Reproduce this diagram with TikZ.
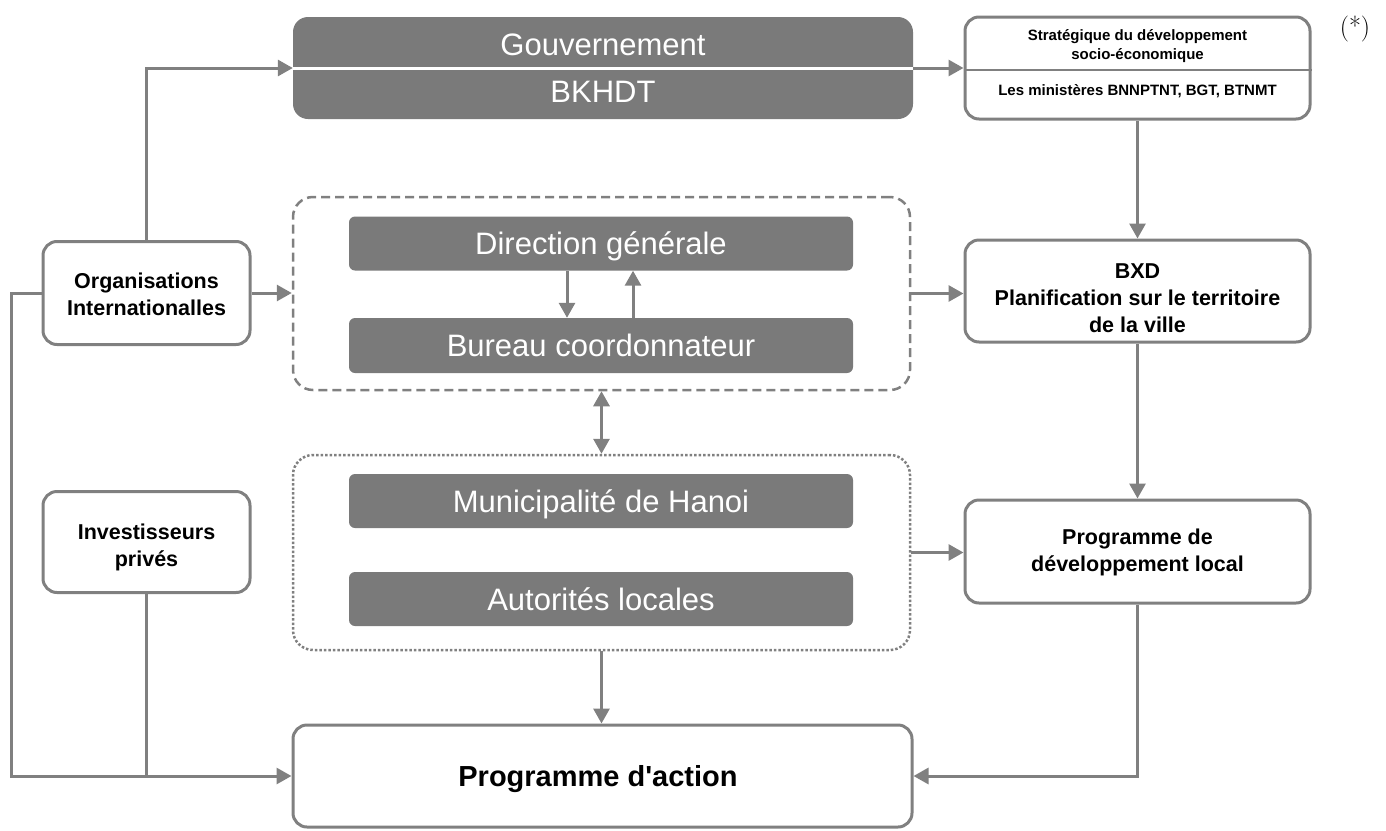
\documentclass[tikz,border=0pt]{standalone}
\usepackage{fontspec}
\setsansfont{Liberation Sans}
\usetikzlibrary{arrows.meta}
\definecolor{boxgray}{HTML}{7A7A7A}
\definecolor{linegray}{HTML}{808080}
\tikzset{
  darkbox/.style={fill=boxgray, draw=none, rounded corners=6pt, minimum width=504pt, minimum height=54pt,
    inner sep=0pt, text=white, font=\sffamily\fontsize{31}{36}\selectfont, text height=22pt, text depth=0pt},
  whitebox/.style={draw=linegray, line width=3pt, fill=white, rounded corners=14pt, inner sep=0pt,
    minimum width=345pt, minimum height=102pt},
  groupbox/.style={draw=linegray, line width=2.5pt, rounded corners=20pt, inner sep=0pt,
    minimum width=617pt},
  lbl/.style={font=\sffamily\bfseries\fontsize{21.5}{27}\selectfont, align=center, inner sep=0pt},
  small/.style={font=\sffamily\bfseries\fontsize{15}{18.5}\selectfont, align=center, inner sep=0pt},
  conn/.style={draw=linegray, line width=3pt, -{Triangle[length=15pt,width=16pt]}},
  wire/.style={draw=linegray, line width=3pt},
}
\begin{document}
\begin{tikzpicture}[x=1pt,y=-1pt]
\useasboundingbox (0,0) rectangle (1386,830);

% top row
\node[fill=boxgray, rounded corners=15pt, minimum width=620pt, minimum height=102pt, inner sep=0pt] (gov) at (603,68) {};
\draw[white, line width=3pt] (gov.west) -- (gov.east);
\node[font=\sffamily\fontsize{31}{36}\selectfont, text=white, inner sep=0pt] (govt) at (603,45) {Gouvernement};
\node[font=\sffamily\fontsize{31}{36}\selectfont, text=white, inner sep=0pt] (bkhdt) at (603,92) {BKHDT};

\node[whitebox] (strat) at (1137.5,68) {};
\draw[linegray, line width=2pt] ([yshift=-2pt]strat.west) -- ([yshift=-2pt]strat.east);
\node[small] (strt) at (1137.5,46) {Stratégique du développement\\socio-économique};
\node[small] (mins) at (1137.5,91) {Les ministères BNNPTNT, BGT, BTNMT};

\node[font=\fontsize{26}{30}\selectfont, inner sep=0pt] (star) at (1355,29) {(*)};

% left column
\node[whitebox, minimum width=207pt, minimum height=103pt] (org) at (146.5,293) {};
\node[lbl] (orgt) at (146.5,294) {Organisations\\Internationalles};
\node[whitebox, minimum width=207pt, minimum height=101pt] (inv) at (146.5,542) {};
\node[lbl] (invt) at (146.5,547) {Investisseurs\\privés};

% centre groups
\node[groupbox, dashed, dash pattern=on 9pt off 5pt, minimum height=193pt] (grp1) at (601.5,293.5) {};
\node[darkbox] (dir) at (601,243.5) {Direction générale};
\node[darkbox, minimum height=55pt] (bur) at (601,345.5) {Bureau coordonnateur};

\node[groupbox, dash pattern=on 2.5pt off 2pt, minimum height=195pt] (grp2) at (601.5,552.5) {};
\node[darkbox] (mun) at (601,501) {Municipalité de Hanoi};
\node[darkbox] (aut) at (601,599) {Autorités locales};

% right column
\node[whitebox] (bxd) at (1137.5,291) {};
\node[lbl] (bxdt) at (1137.5,298) {BXD\\Planification sur le territoire\\de la ville};
\node[whitebox, minimum height=103pt] (pdl) at (1137.5,551.5) {};
\node[lbl] (pdlt) at (1137.5,552) {Programme de\\développement local};

% bottom
\node[whitebox, minimum width=619pt] (pa) at (602.5,776) {};
\node[font=\sffamily\bfseries\fontsize{29}{34}\selectfont, inner sep=0pt] (pat) at (598,779) {Programme d\textquotesingle action};

% connectors
\draw[conn] (org.north) |- (gov.west);
\draw[conn] (gov.east) -- (strat.west);
\draw[conn] (strat.south) -- (bxd.north);
\draw[conn] (org.east) -- (org.east -| grp1.west);
\draw[conn] (grp1.east) -- (grp1.east -| bxd.west);
\draw[conn] (bxd.south) -- (pdl.north);
\draw[conn] (grp2.east) -- (grp2.east -| pdl.west);
\draw[conn] (pdl.south) |- (pa.east);
\draw[conn] (grp2.south) -- (grp2.south |- pa.north);
\draw[conn, {Triangle[length=15pt,width=16pt]}-{Triangle[length=15pt,width=16pt]}] (grp1.south) -- (grp2.north);
\draw[conn] ([xshift=-34pt]dir.south) -- ([xshift=-34pt]bur.north);
\draw[conn] ([xshift=32pt]bur.north) -- ([xshift=32pt]dir.south);
\coordinate (lcorner) at (11,776);
\draw[conn] (org.west) -| (lcorner) -- (pa.west);
\draw[wire] (inv.south) -- (inv.south |- pa.west);
\end{tikzpicture}
\end{document}
